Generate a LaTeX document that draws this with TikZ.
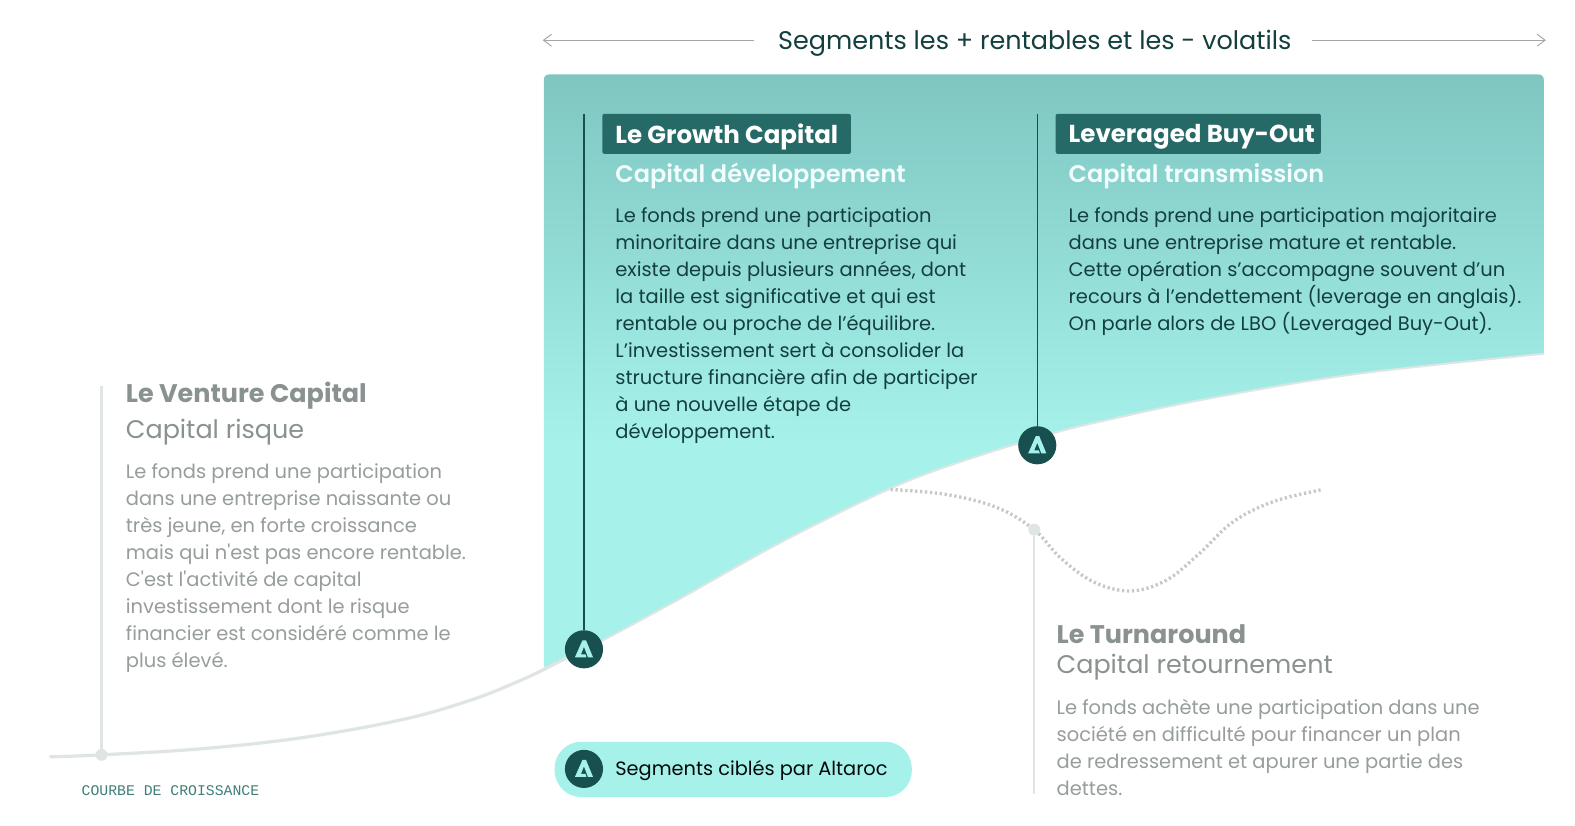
\documentclass[tikz,border=0pt]{standalone}
\usepackage{fontspec}
\setmainfont{Poppins}[Ligatures=TeXOff]
\setmonofont{Liberation Mono}
\newfontfamily\semifont{Poppins SemiBold}[Ligatures=TeXOff]
\usetikzlibrary{arrows.meta}
\definecolor{dark}{HTML}{17504F}
\definecolor{tealbox}{HTML}{266A68}
\definecolor{aqua}{HTML}{A6F2EB}
\definecolor{topteal}{HTML}{7FC6C1}
\definecolor{ink}{HTML}{143F3F}
\definecolor{greytxt}{HTML}{969D9C}
\definecolor{greyhead}{HTML}{8A9291}
\definecolor{greyline}{HTML}{DFE5E3}
\definecolor{monotxt}{HTML}{3F7F78}
\pgfdeclareverticalshading{zoneshade}{100bp}{color(0bp)=(aqua); color(44bp)=(aqua); color(75bp)=(topteal); color(100bp)=(topteal)}
\tikzset{
  x=.754pt,y=-.754pt,
  txt/.style={anchor=north west,inner sep=0pt,align=left},
  body/.style={txt,font=\fontsize{14.6pt}{20.25pt}\selectfont},
  headb/.style={txt,font=\fontsize{18.4pt}{22pt}\selectfont\bfseries},
  heads/.style={txt,font=\fontsize{18pt}{22pt}\semifont},
  greyb/.style={txt,font=\fontsize{19.1pt}{22pt}\selectfont\bfseries},
  greyr/.style={txt,font=\fontsize{19.1pt}{22pt}\selectfont},
  badge/.style={circle,fill=dark,minimum size=28.6pt,inner sep=0pt},
  headbox/.style={fill=tealbox,rounded corners=1.5pt,inner sep=0pt},
  vline/.style={dark,line width=.9pt},
  gline/.style={greyline,line width=1.6pt},
  gdot/.style={circle,fill=greyline,minimum size=9pt,inner sep=0pt},
  tiparrow/.style={draw=black!35,line width=.7pt,-{Straight Barb[length=6pt,width=9pt,line width=.7pt]}},
}
\newcommand{\lambdaicon}[1]{%
  \fill[aqua,shift={(#1)}] (-1.5,-9) -- (2,-9) -- (9,8) -- (4,8) -- (0,-2.5) -- (-3,5) -- (1.5,5) -- (2.5,8) -- (-9,8) -- cycle;}
\begin{document}
\begin{tikzpicture}
\useasboundingbox (0,0) rectangle (1567,821);
\fill[white] (0,0) rectangle (1567,821);
% teal zone
\shade[shading=zoneshade]
  (541,80) .. controls (541,76) and (543,74) .. (547,74) -- (1530,74) .. controls (1534,74) and (1536,76) .. (1536,80) -- (1536,352)
  -- plot[smooth,tension=.6] coordinates {(1536,352) (1350,372) (1200,397) (1101,418) (1048,431) (960,458) (886,486) (780,538) (674,597) (600,637) (547,664)}
  .. controls (543,666) and (541,664) .. (541,660) -- cycle;
% growth curve
\draw[greyline,line width=2.4pt,line cap=round] plot[smooth,tension=.6] coordinates {(50,753) (101,751) (200,745) (300,734) (400,716) (470,696) (520,676) (547,663) (570,651)};
\draw[greyline,line width=1.5pt] plot[smooth,tension=.6] coordinates {(570,651) (600,637) (674,597) (780,538) (886,486) (960,458) (1048,431) (1101,418) (1200,397) (1350,372) (1536,352)};
% dotted turnaround curve
\draw[black!22,line width=2.5pt,dash pattern=on 1.7pt off 2pt] plot[smooth,tension=.6] coordinates {(886,487) (942,492) (992,505) (1029,527) (1055,555) (1088,579) (1125,588) (1161,577) (1194,550) (1227,519) (1267,499) (1316,487)};
% top header
\node[anchor=center,inner sep=0pt,text=ink,font=\fontsize{19.1pt}{23pt}\selectfont] (head) at (1029.5,43) {Segments les + rentables et les - volatils};
\coordinate (la) at (540,40);
\coordinate (ra) at (1538,40);
\coordinate (lb) at (750,40);
\coordinate (rb) at (1305,40);
\draw[tiparrow] (lb) -- (la);
\draw[tiparrow] (rb) -- (ra);
% badges and markers
\coordinate (gtop) at (581,113);
\coordinate (ltop) at (1032,113);
\node[badge] (gb) at (581,646) {};
\node[badge] (lb2) at (1032,443) {};
\draw[vline] (gtop) -- (gb);
\draw[vline] (ltop) -- (lb2);
\lambdaicon{581,646}
\lambdaicon{1032,443}
\node[gdot] (vd) at (101,751) {};
\coordinate (vtop) at (101,384);
\draw[gline] (vtop) -- (vd);
\node[gdot] (td) at (1029,527) {};
\coordinate (tbot) at (1029,790);
\draw[gline] (td) -- (tbot);
% growth capital
\node[headbox,minimum width=186.5pt,minimum height=30pt,anchor=north west] (gbox) at (599,113) {};
\node[headb,text=white,anchor=west] (gt) at (612,136) {Le Growth Capital};
\node[heads,text=white!88!aqua,anchor=west] (gs) at (612,175) {Capital développement};
\node[body,text=ink] (gp) at (612,206) {Le fonds prend une participation\\minoritaire dans une entreprise qui\\existe depuis plusieurs années, dont\\la taille est significative et qui est\\rentable ou proche de l’équilibre.\\L’investissement sert à consolider la\\structure financière afin de participer\\à une nouvelle étape de\\développement.};
% LBO
\node[headbox,minimum width=199pt,minimum height=30pt,anchor=north west] (lbox) at (1050,113) {};
\node[headb,text=white,anchor=west] (lt) at (1063,136) {Leveraged Buy-Out};
\node[heads,text=white!88!aqua,anchor=west] (ls) at (1063,175) {Capital transmission};
\node[body,text=ink] (lp) at (1063,206) {Le fonds prend une participation majoritaire\\dans une entreprise mature et rentable.\\Cette opération s’accompagne souvent d’un\\recours à l’endettement (leverage en anglais).\\On parle alors de LBO (Leveraged Buy-Out).};
% venture
\node[greyb,text=greyhead,anchor=west] (vt) at (125,394) {Le Venture Capital};
\node[greyr,text=greyhead,anchor=west] (vs) at (125,430) {Capital risque};
\node[body,text=greytxt] (vp) at (125,461) {Le fonds prend une participation\\dans une entreprise naissante ou\\très jeune, en forte croissance\\mais qui n'est pas encore rentable.\\C'est l'activité de capital\\investissement dont le risque\\financier est considéré comme le\\plus élevé.};
% turnaround
\node[greyb,text=greyhead,anchor=west] (tt) at (1051,631) {Le Turnaround};
\node[greyr,text=greyhead,anchor=west] (ts) at (1051,664) {Capital retournement};
\node[body,text=greytxt] (tp) at (1051,695) {Le fonds achète une participation dans une\\société en difficulté pour financer un plan\\de redressement et apurer une partie des\\dettes.};
% legend
\node[fill=aqua,rounded corners=20pt,minimum width=268pt,minimum height=41.5pt,inner sep=0pt] (pill) at (729.5,765.5) {};
\node[badge] (pb) at (581,765) {};
\lambdaicon{581,765}
\node[txt,anchor=west,text=black!85!ink,font=\fontsize{14.5pt}{18pt}\selectfont] (pt) at (612,767) {Segments ciblés par Altaroc};
% axis label
\node[txt,anchor=west,text=monotxt,font=\fontsize{11.1pt}{13pt}\selectfont\ttfamily] (cl) at (81,787) {COURBE DE CROISSANCE};
\end{tikzpicture}
\end{document}
